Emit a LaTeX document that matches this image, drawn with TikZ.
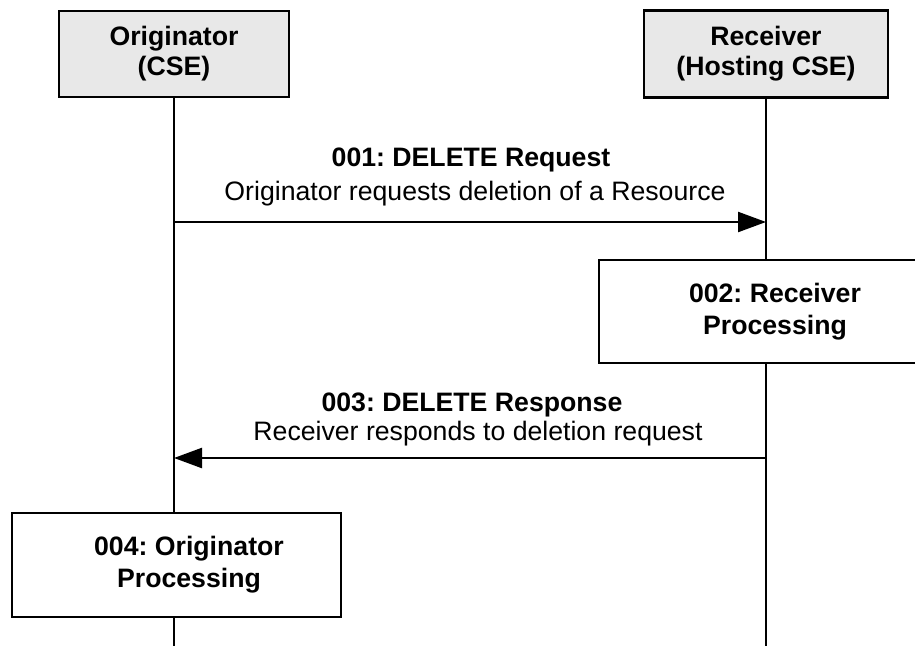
\documentclass[tikz,border=0pt]{standalone}
\usepackage{fontspec}
\setmainfont{Liberation Sans}
\usetikzlibrary{arrows.meta, positioning, calc}
\definecolor{headgray}{RGB}{232,232,232}
\frenchspacing

\begin{document}
\begin{tikzpicture}[
    x=0.75pt, y=-0.75pt,
    txt/.style={font=\fontsize{20}{23}\selectfont, inner sep=0pt},
    head/.style={draw, line width=2pt, fill=headgray, align=center,
                 font=\fontsize{20}{22.5}\selectfont\bfseries},
    proc/.style={draw, line width=2pt, fill=white, align=center,
                 font=\fontsize{20}{24}\selectfont\bfseries},
    life/.style={line width=2pt},
    msg/.style={line width=1.8pt, -{Triangle[length=21pt,width=15pt]}},
]
\clip (0,0) rectangle (915,646);
% --- participants --------------------------------------------------------
\node[head, minimum width=172.5pt, minimum height=64.5pt] (orig) at (174,54) {Originator\\(CSE)};
\node[head, minimum width=183pt, minimum height=65.25pt] (recv) at (766,54) {Receiver\\(Hosting CSE)};
\coordinate (bottom) at (0,646);
\draw[life] (orig.south) -- (orig.south |- bottom);
\draw[life] (recv.south) -- (recv.south |- bottom);
% --- 001: request ----------------------------------------------------------
\coordinate (req-o) at (174,222);
\coordinate (req-r) at (766,222);
\node[txt, anchor=base, font=\fontsize{20}{23}\selectfont\bfseries] (reqtitle) at (471,166) {001: DELETE Request};
\node[txt, anchor=base] (reqtext) at (475,200) {Originator requests deletion of a Resource};
\draw[msg] (req-o) -- (req-r);
% --- 002: receiver processing ----------------------------------------------
\node[proc, minimum width=264pt, minimum height=77.25pt] (proc2) at (775,311.5) {002: Receiver\\Processing};
% --- 003: response ---------------------------------------------------------
\coordinate (rsp-r) at (766,458);
\coordinate (rsp-o) at (174,458);
\node[txt, anchor=base, font=\fontsize{20}{23}\selectfont\bfseries] (rsptitle) at (472,411) {003: DELETE Response};
\node[txt, anchor=base] (rsptext) at (478,440) {Receiver responds to deletion request};
\draw[msg] (rsp-r) -- (rsp-o);
% --- 004: originator processing --------------------------------------------
\node[proc, minimum width=246.75pt, minimum height=78pt] (proc4) at (176.5,565) {};
\node[proc, draw=none, fill=none] (proc4text) at (189,565) {004: Originator\\Processing};
\end{tikzpicture}
\end{document}
